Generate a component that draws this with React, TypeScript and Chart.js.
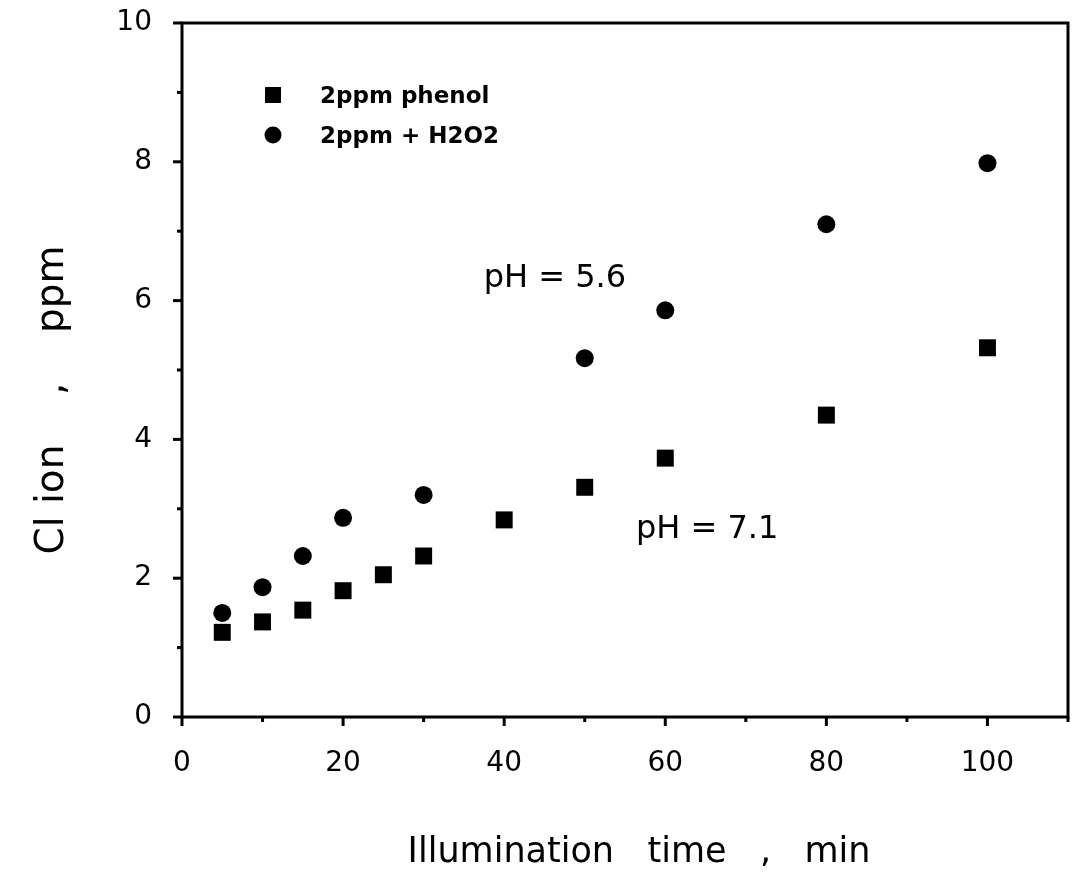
import React, { useEffect, useRef } from "react";
import { Chart, registerables } from "chart.js";

Chart.register(...registerables);

const phenolTimes = [5, 10, 15, 20, 25, 30, 40, 50, 60, 80, 100];
const phenolCl = [1.22, 1.37, 1.54, 1.82, 2.05, 2.32, 2.84, 3.31, 3.73, 4.35, 5.32];
const h2o2Times = [5, 10, 15, 20, 30, 50, 60, 80, 100];
const h2o2Cl = [1.5, 1.87, 2.32, 2.87, 3.2, 5.17, 5.86, 7.1, 7.98];
const seriesNames = ["2ppm phenol", "2ppm + H2O2"];
const annotations = [
  { text: "pH = 5.6", x: 46.3, y: 6.31 },
  { text: "pH = 7.1", x: 65.2, y: 2.7 },
];
const xTitle = "Illumination   time   ,   min";
const yTitle = "Cl ion    ,    ppm";

const FONT = "'DejaVu Sans', Verdana, sans-serif";

const customPlugin = {
  id: "custom",
  beforeDatasetsDraw(chart: any) {
    const { ctx, chartArea, scales } = chart;
    const { left, right, top, bottom } = chartArea;
    const xs = scales.x;
    const ys = scales.y;
    ctx.save();
    ctx.strokeStyle = "#000";
    ctx.lineWidth = 3;
    ctx.lineCap = "square";
    ctx.beginPath();
    ctx.rect(left, top, right - left, bottom - top);
    ctx.stroke();
    ctx.lineCap = "butt";
    for (let v = 0; v <= 110; v += 10) {
      const px = xs.getPixelForValue(v);
      const len = v % 20 === 0 ? 9 : 5;
      ctx.beginPath();
      ctx.moveTo(px, bottom);
      ctx.lineTo(px, bottom + len);
      ctx.stroke();
    }
    for (let v = 0; v <= 10; v += 1) {
      const py = ys.getPixelForValue(v);
      const len = v % 2 === 0 ? 9 : 5;
      ctx.beginPath();
      ctx.moveTo(left, py);
      ctx.lineTo(left - len, py);
      ctx.stroke();
    }
    ctx.restore();
  },
  afterDatasetsDraw(chart: any) {
    const { ctx, scales } = chart;
    const xs = scales.x;
    const ys = scales.y;
    ctx.save();
    ctx.fillStyle = "#000";
    ctx.font = `32px ${FONT}`;
    ctx.textAlign = "center";
    ctx.textBaseline = "middle";
    for (const a of annotations) {
      ctx.fillText(a.text, xs.getPixelForValue(a.x), ys.getPixelForValue(a.y));
    }
    const lx = 273;
    const ly = [95, 135];
    ctx.fillRect(lx - 8, ly[0] - 8, 16, 16);
    ctx.beginPath();
    ctx.arc(lx, ly[1], 8.5, 0, Math.PI * 2);
    ctx.fill();
    ctx.font = `bold 23px ${FONT}`;
    ctx.textAlign = "left";
    ctx.textBaseline = "alphabetic";
    ctx.fillText(seriesNames[0], 320, ly[0] + 8);
    ctx.fillText(seriesNames[1], 320, ly[1] + 8);
    ctx.font = `35px ${FONT}`;
    ctx.textAlign = "center";
    ctx.textBaseline = "alphabetic";
    ctx.fillText(xTitle, 639, 862);
    ctx.save();
    ctx.translate(63, 400);
    ctx.rotate(-Math.PI / 2);
    ctx.font = `39px ${FONT}`;
    ctx.fillText(yTitle, 0, 0);
    ctx.restore();
    ctx.restore();
  },
};

export default function App() {
  const ref = useRef<HTMLCanvasElement | null>(null);
  useEffect(() => {
    if (!ref.current) return;
    const chart = new Chart(ref.current, {
      type: "scatter",
      data: {
        datasets: [
          {
            label: seriesNames[0],
            data: phenolTimes.map((t, i) => ({ x: t, y: phenolCl[i] })),
            pointStyle: "rect",
            pointRadius: 12,
            backgroundColor: "#000",
            borderColor: "#000",
            borderWidth: 0,
          },
          {
            label: seriesNames[1],
            data: h2o2Times.map((t, i) => ({ x: t, y: h2o2Cl[i] })),
            pointStyle: "circle",
            pointRadius: 9,
            backgroundColor: "#000",
            borderColor: "#000",
            borderWidth: 0,
          },
        ],
      },
      options: {
        responsive: false,
        animation: false,
        layout: { padding: { top: 23, right: 9, left: 0, bottom: 0 } },
        plugins: {
          legend: { display: false },
          tooltip: { enabled: false },
          title: { display: false },
        },
        scales: {
          x: {
            type: "linear",
            min: 0,
            max: 110,
            grid: { display: false },
            border: { display: false },
            afterFit: (s: any) => {
              s.height = 158;
              s.paddingLeft = 0;
              s.paddingRight = 0;
            },
            ticks: {
              stepSize: 20,
              padding: 22,
              color: "#000",
              font: { family: FONT, size: 28 },
              callback: (v: any) => (Number(v) % 20 === 0 && Number(v) <= 100 ? String(v) : ""),
            },
          },
          y: {
            type: "linear",
            min: 0,
            max: 10,
            grid: { display: false },
            border: { display: false },
            afterFit: (s: any) => {
              s.width = 182;
              s.paddingTop = 0;
              s.paddingBottom = 0;
            },
            ticks: {
              stepSize: 2,
              padding: 22,
              color: "#000",
              font: { family: FONT, size: 28 },
            },
          },
        },
      },
      plugins: [customPlugin],
    });
    return () => chart.destroy();
  }, []);
  return (
    <div style={{ position: "fixed", left: 0, top: 0, width: 1080, height: 875, background: "#fff" }}>
      <canvas ref={ref} width={1080} height={875} />
    </div>
  );
}
